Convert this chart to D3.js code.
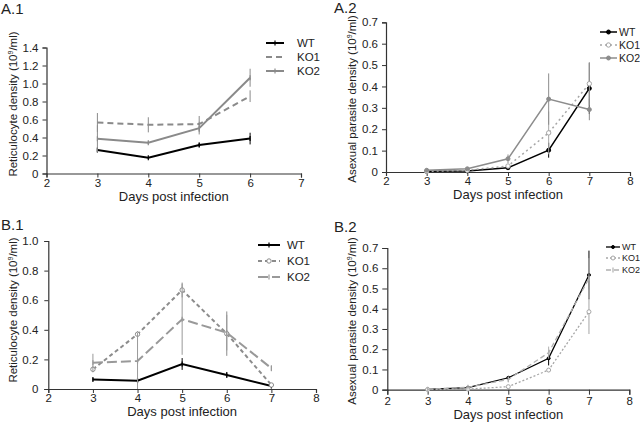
<!DOCTYPE html>
<html>
<head>
<meta charset="utf-8">
<script src="https://cdn.jsdelivr.net/npm/d3@7"></script>
<style>
  html, body { margin: 0; padding: 0; background: #fff; }
  svg { display: block; font-family: "Liberation Sans", Arial, sans-serif; }
</style>
</head>
<body>
<svg id="chart" width="640" height="424"></svg>
<script>
// ---------------- DATA ----------------
const seriesNames = ["WT", "KO1", "KO2"];

// Panel A.1 — Reticulocyte density
const a1Days = [3, 4, 5, 6];
const a1WT = [0.26, 0.175, 0.317, 0.388];
const a1WTErr = [0.02, 0.01, 0.025, 0.065];
const a1KO1 = [0.567, 0.541, 0.549, 0.859];
const a1KO1Err = [0.105, 0.084, 0.09, 0.065];
const a1KO2 = [0.385, 0.343, 0.504, 1.064];
const a1KO2Err = [0.15, 0.02, 0.07, 0.1];
const a1XTicks = [2, 3, 4, 5, 6, 7];
const a1YTicks = [0, 0.2, 0.4, 0.6, 0.8, 1.0, 1.2, 1.4];

// Panel A.2 — Asexual parasite density
const a2Days = [3, 4, 5, 6, 7];
const a2WT = [0.003, 0.005, 0.02, 0.102, 0.391];
const a2WTErr = [0.002, 0.003, 0.005, 0.035, 0.12];
const a2KO1 = [0.003, 0.008, 0.028, 0.183, 0.413];
const a2KO1Err = [0.002, 0.003, 0.01, 0.1, 0.1];
const a2KO2 = [0.008, 0.015, 0.062, 0.341, 0.292];
const a2KO2Err = [0.003, 0.005, 0.02, 0.12, 0.05];
const a2XTicks = [2, 3, 4, 5, 6, 7, 8];
const a2YTicks = [0, 0.1, 0.2, 0.3, 0.4, 0.5, 0.6, 0.7];

// Panel B.1 — Reticulocyte density
const b1Days = [3, 4, 5, 6, 7];
const b1WT = [0.065, 0.056, 0.169, 0.095, 0.02];
const b1WTErr = [0.01, 0.01, 0.04, 0.02, 0.01];
const b1KO1 = [0.133, 0.37, 0.669, 0.374, 0.027];
const b1KO1Err = [0.02, 0.02, 0.05, 0.15, 0.01];
const b1KO2 = [0.178, 0.189, 0.471, 0.381, 0.14];
const b1KO2Err = [0.06, 0.19, 0.24, 0.12, 0.02];
const b1XTicks = [2, 3, 4, 5, 6, 7, 8];
const b1YTicks = [0, 0.2, 0.4, 0.6, 0.8, 1.0];

// Panel B.2 — Asexual parasite density
const b2Days = [3, 4, 5, 6, 7];
const b2WT = [0.002, 0.01, 0.059, 0.155, 0.567];
const b2WTErr = [0.001, 0.003, 0.008, 0.035, 0.12];
const b2KO1 = [0.001, 0.003, 0.015, 0.097, 0.385];
const b2KO1Err = [0.001, 0.002, 0.005, 0.01, 0.11];
const b2KO2 = [0.002, 0.012, 0.051, 0.183, 0.55];
const b2KO2Err = [0.001, 0.003, 0.015, 0.03, 0.1];
const b2XTicks = [2, 3, 4, 5, 6, 7, 8];
const b2YTicks = [0, 0.1, 0.2, 0.3, 0.4, 0.5, 0.6, 0.7];

const xTitle = "Days post infection";
const retiTitle = "Reticulocyte density (10";
const paraTitle = "Asexual parasite density (10";

// ---------------- DRAWING ----------------
const svg = d3.select("#chart");
const yFmt = d => d === 0 ? "0" : d3.format(".1f")(d);

function drawPanel(p) {
  const g = svg.append("g");
  const x = d3.scaleLinear().domain(p.xDomain).range(p.xRange);
  const y = d3.scaleLinear().domain(p.yDomain).range(p.yRange);

  // panel label
  g.append("text").attr("x", p.label[1]).attr("y", p.label[2])
    .attr("font-size", 15).attr("fill", "#222").text(p.label[0]);

  // y axis
  const ya = g.append("g").attr("transform", `translate(${p.xRange[0]},0)`)
    .call(d3.axisLeft(y).tickValues(p.yTicks).tickFormat(yFmt)
      .tickSize(p.tick).tickPadding(p.yPad));
  // x axis
  const xa = g.append("g").attr("transform", `translate(0,${p.yRange[0]})`)
    .call(d3.axisBottom(x).tickValues(p.xTicks).tickFormat(d3.format("d"))
      .tickSize(p.tick).tickPadding(p.xPad));
  [ya, xa].forEach(a => {
    a.select(".domain").attr("stroke", "#333").attr("stroke-width", 1.2);
    a.selectAll(".tick line").attr("stroke", "#333");
    a.selectAll("text").attr("font-size", 11.5).attr("fill", "#222")
      .attr("font-family", "Liberation Sans, Arial, sans-serif");
  });

  // axis titles
  g.append("text").attr("x", (p.xRange[0] + p.xRange[1]) / 2).attr("y", p.xTitleY)
    .attr("text-anchor", "middle").attr("font-size", 13).attr("fill", "#222").text(xTitle);
  const yt = g.append("text")
    .attr("transform", `translate(${p.yTitleX},${p.yTitleCY}) rotate(-90)`)
    .attr("text-anchor", "middle").attr("font-size", 11.5).attr("fill", "#222");
  yt.append("tspan").text(p.yTitle);
  yt.append("tspan").attr("font-size", 7).attr("dy", -4).text("9");
  yt.append("tspan").attr("dy", 4).text("/ml)");

  const line = d3.line().x(d => x(d[0])).y(d => y(d[1]));

  p.series.forEach(s => {
    const pts = p.days.map((d, i) => [d, s.values[i], s.err[i]]);
    // error bars
    g.append("g").selectAll("line").data(pts).join("line")
      .attr("x1", d => x(d[0])).attr("x2", d => x(d[0]))
      .attr("y1", d => y(d[1] + d[2])).attr("y2", d => y(Math.max(0, d[1] - d[2])))
      .attr("stroke", s.errColor || s.color).attr("stroke-width", 1);
    // line
    g.append("path").datum(pts).attr("d", line).attr("fill", "none")
      .attr("stroke", s.color).attr("stroke-width", s.width)
      .attr("stroke-dasharray", s.dash || null);
    // markers
    drawMarkers(g, pts.map(d => [x(d[0]), y(d[1])]), s);
  });

  // legend
  p.series.forEach((s, i) => {
    const ly = p.legend.y[i];
    g.append("line").attr("x1", p.legend.x1).attr("x2", p.legend.x2)
      .attr("y1", ly).attr("y2", ly).attr("stroke", s.color).attr("stroke-width", s.width)
      .attr("stroke-dasharray", s.dash || null);
    drawMarkers(g, [[(p.legend.x1 + p.legend.x2) / 2, ly]], s);
    g.append("text").attr("x", p.legend.tx).attr("y", ly).attr("dy", "0.35em")
      .attr("font-size", p.legend.fs).attr("fill", "#222").text(s.name);
  });
}

function drawMarkers(g, pts, s) {
  if (!s.marker) return;
  const m = g.append("g");
  if (s.marker === "dot" || s.marker === "ring") {
    m.selectAll("circle").data(pts).join("circle")
      .attr("cx", d => d[0]).attr("cy", d => d[1]).attr("r", s.mr || 2)
      .attr("fill", s.marker === "dot" ? s.color : "#fff")
      .attr("stroke", s.color).attr("stroke-width", 1);
  } else if (s.marker === "dash") {
    m.selectAll("line").data(pts).join("line")
      .attr("x1", d => d[0]).attr("x2", d => d[0])
      .attr("y1", d => d[1] - 2.5).attr("y2", d => d[1] + 2.5)
      .attr("stroke", s.color).attr("stroke-width", 1.2);
  }
}

const panels = [
  {
    label: ["A.1", 1, 14],
    xDomain: [2, 7], xRange: [46.5, 301], yDomain: [0, 1.4], yRange: [173.5, 47.5],
    xTicks: a1XTicks, yTicks: a1YTicks, tick: 4, yPad: 4, xPad: 1,
    xTitleY: 201, yTitleX: 17, yTitleCY: 104, yTitle: retiTitle,
    days: a1Days,
    series: [
      { name: seriesNames[0], values: a1WT, err: a1WTErr, color: "#000", width: 2, marker: "dash" },
      { name: seriesNames[1], values: a1KO1, err: a1KO1Err, color: "#8a8a8a", width: 2, dash: "6,4" },
      { name: seriesNames[2], values: a1KO2, err: a1KO2Err, color: "#8a8a8a", width: 2, marker: "dash" }
    ],
    legend: { x1: 266, x2: 284, tx: 297, y: [43, 57, 71], fs: 11.5 }
  },
  {
    label: ["A.2", 334, 13],
    xDomain: [2, 8], xRange: [386, 630], yDomain: [0, 0.7], yRange: [172, 22.3],
    xTicks: a2XTicks, yTicks: a2YTicks, tick: 4, yPad: 4, xPad: 1,
    xTitleY: 199, yTitleX: 356, yTitleCY: 99, yTitle: paraTitle,
    days: a2Days,
    series: [
      { name: seriesNames[0], values: a2WT, err: a2WTErr, color: "#000", width: 1.5, marker: "dot", mr: 2 },
      { name: seriesNames[1], values: a2KO1, err: a2KO1Err, color: "#a6a6a6", width: 1.5, dash: "2,3", marker: "ring", mr: 2.2 },
      { name: seriesNames[2], values: a2KO2, err: a2KO2Err, color: "#8c8c8c", width: 1.5, marker: "dot", mr: 2 }
    ],
    legend: { x1: 600, x2: 617, tx: 619, y: [32, 45, 58], fs: 10.5 }
  },
  {
    label: ["B.1", 1, 230],
    xDomain: [2, 8], xRange: [48.3, 316], yDomain: [0, 1.0], yRange: [389, 241],
    xTicks: b1XTicks, yTicks: b1YTicks, tick: 4, yPad: 6, xPad: 1,
    xTitleY: 416, yTitleX: 17, yTitleCY: 310, yTitle: retiTitle,
    days: b1Days,
    series: [
      { name: seriesNames[0], values: b1WT, err: b1WTErr, color: "#000", width: 2, marker: "dash" },
      { name: seriesNames[1], values: b1KO1, err: b1KO1Err, color: "#8c8c8c", width: 2, dash: "4,3", marker: "ring", mr: 2.2 },
      { name: seriesNames[2], values: b1KO2, err: b1KO2Err, color: "#999", width: 2, dash: "10,4", marker: "dash" }
    ],
    legend: { x1: 258, x2: 280, tx: 287, y: [245, 261, 277], fs: 11.5 }
  },
  {
    label: ["B.2", 334, 232],
    xDomain: [2, 8], xRange: [387.3, 629.3], yDomain: [0, 0.7], yRange: [389.7, 248],
    xTicks: b2XTicks, yTicks: b2YTicks, tick: 5, yPad: 4, xPad: 2,
    xTitleY: 419, yTitleX: 356, yTitleCY: 321, yTitle: paraTitle,
    days: b2Days,
    series: [
      { name: seriesNames[0], values: b2WT, err: b2WTErr, color: "#000", width: 1.3, marker: "dot", mr: 1.5 },
      { name: seriesNames[1], values: b2KO1, err: b2KO1Err, color: "#a6a6a6", width: 1.3, dash: "2,2", marker: "ring", mr: 2 },
      { name: seriesNames[2], values: b2KO2, err: b2KO2Err, color: "#b0b0b0", width: 1.3, dash: "5,3", marker: "dash" }
    ],
    legend: { x1: 606, x2: 620, tx: 622, y: [247, 258, 270], fs: 9 }
  }
];

panels.forEach(drawPanel);
</script>
</body>
</html>
